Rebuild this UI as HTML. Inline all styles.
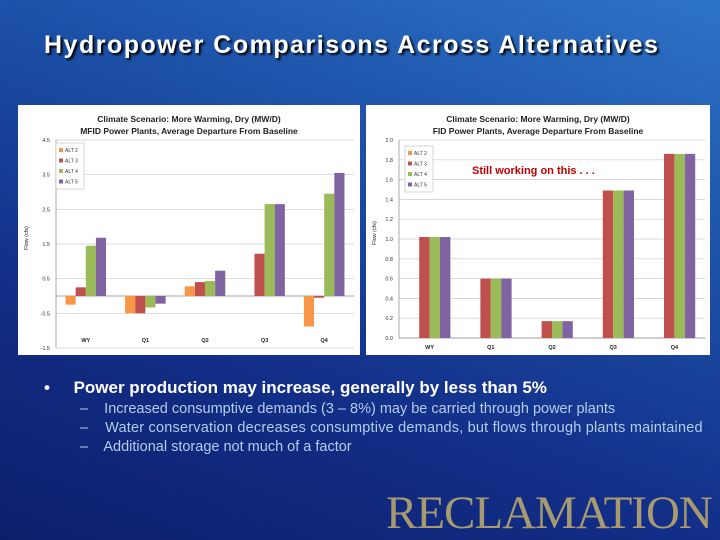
<!DOCTYPE html>
<html><head><meta charset="utf-8">
<style>
body{margin:0;width:720px;height:540px;overflow:hidden;font-family:"Liberation Sans",sans-serif;}
#slide{position:relative;width:720px;height:540px;background:linear-gradient(200deg,#2d74c8 0%,#1c4fa6 35%,#13308a 65%,#0d1d6a 100%);}
#title{position:absolute;left:44px;top:31px;color:#fff;font-size:25px;letter-spacing:1.5px;font-weight:bold;text-shadow:2px 2px 2px #000;white-space:nowrap;}
.panel{position:absolute;background:#fff;}
.bul{position:absolute;color:#fff;font-family:"Liberation Sans Narrow","Liberation Sans",sans-serif;white-space:nowrap;}
#logo{position:absolute;left:386px;top:486px;font-family:"Liberation Serif",serif;font-size:47px;color:#a89a70;letter-spacing:-1px;}
</style></head><body>
<div id="slide">
<div id="title">Hydropower Comparisons Across Alternatives</div>
<svg class="panel" id="c1" style="left:18px;top:105px" width="342" height="250"></svg>
<svg class="panel" id="c2" style="left:366px;top:105px" width="344" height="250"></svg>
<div class="bul" style="left:44px;top:378px;font-size:17px;font-weight:bold;">•&nbsp;&nbsp;&nbsp;&nbsp; Power production may increase, generally by less than 5%</div>
<div class="bul" style="left:80px;top:401px;font-size:14.5px;color:#b4cdea">–&nbsp;&nbsp;&nbsp; Increased consumptive demands (3 – 8%) may be carried through power plants</div>
<div class="bul" style="left:80px;top:420px;font-size:14.5px;color:#b4cdea;letter-spacing:0.2px">–&nbsp;&nbsp;&nbsp; Water conservation decreases consumptive demands, but flows through plants maintained</div>
<div class="bul" style="left:80px;top:439px;font-size:14.5px;color:#b4cdea">–&nbsp;&nbsp;&nbsp; Additional storage not much of a factor</div>
<div id="logo">RECLAMATION</div>
</div>
<script>
const categories=["WY","Q1","Q2","Q3","Q4"];
const seriesNames=["ALT 2","ALT 3","ALT 4","ALT 5"];
const colors=["#f79646","#c0504d","#9bbb59","#8064a2"];
const leftAlt2=[-0.25,-0.5,0.28,0,-0.88];
const leftAlt3=[0.25,-0.5,0.4,1.22,-0.05];
const leftAlt4=[1.45,-0.33,0.43,2.65,2.95];
const leftAlt5=[1.68,-0.22,0.73,2.65,3.55];
const leftTicks=[-1.5,-0.5,0.5,1.5,2.5,3.5,4.5];
const rightAlt2=[0,0,0,0,0];
const rightAlt3=[1.02,0.6,0.17,1.49,1.86];
const rightAlt4=[1.02,0.6,0.17,1.49,1.86];
const rightAlt5=[1.02,0.6,0.17,1.49,1.86];
const rightTicks=[0,0.2,0.4,0.6,0.8,1.0,1.2,1.4,1.6,1.8,2.0];
const NS="http://www.w3.org/2000/svg";
function mk(p,t,a){const e=document.createElementNS(NS,t);for(const k in a)e.setAttribute(k,a[k]);p.appendChild(e);return e;}
function chart(svg,sub,series,ticks,dec,x0,x1,yT,yB,legX,legY,labY){
  const mn=ticks[0],mx=ticks[ticks.length-1];
  const y=v=>yT+(mx-v)/(mx-mn)*(yB-yT);
  let t=mk(svg,"text",{x:(svg.getAttribute("width")/2),y:17,"text-anchor":"middle","font-size":"8.5","font-weight":"bold",fill:"#222"});
  t.textContent="Climate Scenario:  More Warming, Dry (MW/D)";
  
  
  t=mk(svg,"text",{x:(svg.getAttribute("width")/2),y:29,"text-anchor":"middle","font-size":"8.5","font-weight":"bold",fill:"#222"});
  t.textContent=sub;
  
  
  ticks.forEach(v=>{
    const g=mk(svg,"line",{x1:x0,x2:x1,y1:y(v),y2:y(v),stroke:"#ccc","stroke-width":0.7});
    
    
    const l=mk(svg,"text",{x:x0-6,y:y(v)+2,"text-anchor":"end","font-size":"5.5",fill:"#333"});
    l.textContent=v.toFixed(dec);
    
    
  });
  mk(svg,"line",{x1:x0,x2:x0,y1:yT,y2:yB,stroke:"#888","stroke-width":0.7});
  const zy=y(0);
  mk(svg,"line",{x1:x0,x2:x1,y1:zy,y2:zy,stroke:"#888","stroke-width":0.7});
  const yl=mk(svg,"text",{x:0,y:0,"font-size":"5.5",fill:"#222",transform:`translate(10,${(yT+yB)/2+6}) rotate(-90)`});
  yl.textContent="Flow (cfs)";
  
  
  const cw=(x1-x0)/categories.length,bw=cw*0.17;
  categories.forEach((c,i)=>{
    const cx=x0+cw*(i+0.5);
    series.forEach((s,j)=>{
      const v=s[i];
      const r=mk(svg,"rect",{x:cx-2*bw+j*bw,y:Math.min(y(v),zy),width:bw,height:Math.abs(y(v)-zy),fill:colors[j]});
      
      
    });
    const cl=mk(svg,"text",{x:cx,y:labY,"text-anchor":"middle","font-size":"5.5","font-weight":"bold",fill:"#222"});
    cl.textContent=c;
    
    
  });
  const lg=mk(svg,"rect",{x:legX,y:legY,width:28,height:46,fill:"#fff",stroke:"#bbb","stroke-width":0.6});
  
  
  seriesNames.forEach((n,j)=>{
    mk(svg,"rect",{x:legX+3,y:legY+5+j*10.5,width:4,height:4,fill:colors[j]});
    const e=mk(svg,"text",{x:legX+9,y:legY+9+j*10.5,"font-size":"5",fill:"#333"});
    e.textContent=n;
    
    
  });
}
chart(document.getElementById("c1"),"MFID Power Plants, Average Departure From Baseline",[leftAlt2,leftAlt3,leftAlt4,leftAlt5],leftTicks,1,38,336,35,243,38,38,237);
chart(document.getElementById("c2"),"FID Power Plants, Average Departure From Baseline",[rightAlt2,rightAlt3,rightAlt4,rightAlt5],rightTicks,1,33,339,35,233,39,41,244);
const svg2=document.getElementById("c2");
const w=mk(svg2,"text",{x:106,y:69,"font-size":"11",fill:"#c00000","font-weight":"bold"});
w.textContent="Still working on this . . .";


</script>
</body></html>
